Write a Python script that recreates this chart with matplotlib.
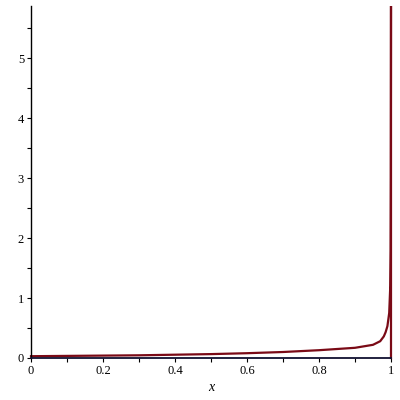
import matplotlib
matplotlib.use("Agg")
import matplotlib.pyplot as plt
from matplotlib.ticker import MultipleLocator

# values
xs = [0.0, 0.1, 0.2, 0.3, 0.4, 0.5, 0.6, 0.7, 0.8, 0.85, 0.9, 0.93, 0.95,
      0.96, 0.97, 0.98, 0.985, 0.99, 0.995, 0.998, 0.999, 0.9995, 1.0, 1.0]
ys = [0.03, 0.035, 0.04, 0.045, 0.055, 0.065, 0.08, 0.1, 0.13, 0.15, 0.17,
      0.2, 0.22, 0.25, 0.28, 0.36, 0.43, 0.53, 0.75, 1.2, 1.8, 3.0, 5.87, 0.0]

plt.rcParams['font.family'] = ['Liberation Serif', 'DejaVu Serif']

fig = plt.figure(figsize=(4, 4), dpi=100)
ax = fig.add_axes([0.0775, 0.105, 0.9, 0.88])

ax.plot(xs, ys, color='#7a0a16', lw=1.6, solid_joinstyle='miter', clip_on=False)

ax.set_xlim(0, 1)
ax.set_ylim(0, 5.87)
ax.spines['top'].set_visible(False)
ax.spines['right'].set_visible(False)
ax.spines['left'].set_linewidth(1.0)
ax.spines['bottom'].set_linewidth(1.3)
ax.spines['bottom'].set_color('#101030')

ax.xaxis.set_minor_locator(MultipleLocator(0.1))
ax.yaxis.set_minor_locator(MultipleLocator(0.5))
ax.set_xticks([0, 0.2, 0.4, 0.6, 0.8, 1])
ax.set_xticklabels(['0', '0.2', '0.4', '0.6', '0.8', '1'], fontsize=9)
ax.set_yticks([0, 1, 2, 3, 4, 5])
ax.set_yticklabels(['0', '1', '2', '3', '4', '5'], fontsize=9)
ax.tick_params(which='both', length=3, width=0.8, pad=2)

ax.set_xlabel('x', fontsize=10, style='italic', labelpad=3)

fig.savefig('out.png', dpi=100)
